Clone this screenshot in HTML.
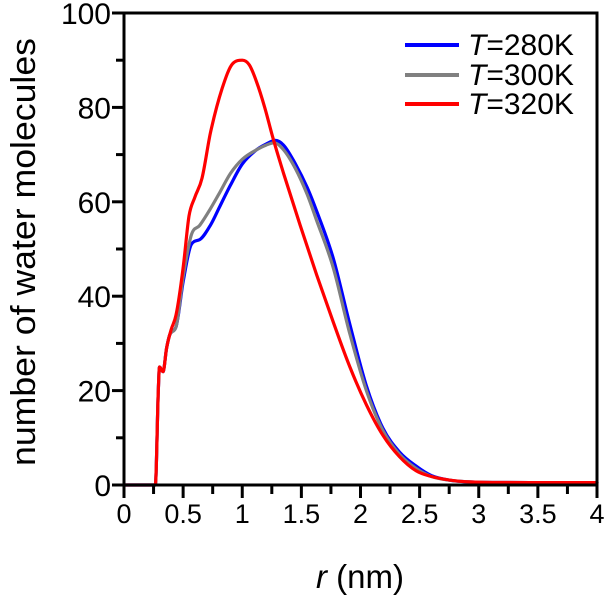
<!DOCTYPE html>
<html><head><meta charset="utf-8"><style>
html,body{margin:0;padding:0;background:#fff;}
svg text{font-family:"Liberation Sans",sans-serif;fill:#000;}
</style></head><body>
<svg id="chart" width="605" height="596" viewBox="0 0 605 596" xmlns="http://www.w3.org/2000/svg">
<g id="series"></g>
<g id="axes"></g>
<text transform="translate(35,252) rotate(-90)" text-anchor="middle" font-size="34" textLength="428" lengthAdjust="spacingAndGlyphs">number of water molecules</text>
<text x="360" y="588" text-anchor="middle" font-size="33"><tspan font-style="italic">r</tspan> (nm)</text>
<g>
<line x1="405" y1="45" x2="459" y2="45" stroke="#0000ff" stroke-width="4"/>
<text x="468" y="55" font-size="30"><tspan font-style="italic">T</tspan>=280K</text>
<line x1="405" y1="75" x2="459" y2="75" stroke="#808080" stroke-width="4"/>
<text x="468" y="85" font-size="30"><tspan font-style="italic">T</tspan>=300K</text>
<line x1="405" y1="104" x2="459" y2="104" stroke="#ff0000" stroke-width="4"/>
<text x="468" y="114" font-size="30"><tspan font-style="italic">T</tspan>=320K</text>
</g>
</svg>
<script>
const xTicks = [0,0.5,1,1.5,2,2.5,3,3.5,4];
const xTickLabels = ["0","0.5","1","1.5","2","2.5","3","3.5","4"];
const yTicks = [0,20,40,60,80,100];
const yTickLabels = ["0","20","40","60","80","100"];
const rBlue = [0,0.265,0.29,0.30,0.33,0.36,0.39,0.44,0.50,0.57,0.64,0.73,0.81,0.90,1.0,1.12,1.2,1.28,1.35,1.45,1.55,1.63,1.77,1.91,2.05,2.19,2.33,2.47,2.6,2.76,3.0,3.5,4.0];
const nBlue = [0,0,20,25,24,29,32,33.5,43,51,52,55,59,63.5,68,71,72.2,73,72,68,63,58,48,34,21,12,7,4,2,1,0.6,0.5,0.5];
const rGray = [0,0.265,0.29,0.30,0.33,0.36,0.39,0.44,0.50,0.57,0.64,0.73,0.81,0.90,1.0,1.12,1.2,1.27,1.35,1.45,1.55,1.63,1.77,1.91,2.05,2.19,2.33,2.47,2.6,2.76,3.0,3.5,4.0];
const nGray = [0,0,20,25,24,29,32,33.5,44,53,55,58.5,62,66,69,71,72,72.5,71,67,61.5,56,46,32,20,11.5,6.5,3.5,1.8,1,0.6,0.5,0.5];
const rRed = [0,0.265,0.29,0.30,0.33,0.36,0.40,0.44,0.50,0.55,0.60,0.66,0.73,0.83,0.92,1.0,1.06,1.12,1.19,1.26,1.35,1.49,1.63,1.77,1.91,2.05,2.19,2.33,2.47,2.6,2.8,3.0,3.5,4.0];
const nRed = [0,0,20,25,24,29,33,36,46,57,61,65,74.5,84,89.3,90,89,85.5,80,73.5,66,55,44.5,34.5,25,17,10.5,6,3,1.8,0.9,0.6,0.5,0.5];

const X0=124, X1=597, Y0=485, Y1=13;
const xScale = v => X0 + (v/4)*(X1-X0);
const yScale = v => Y0 - (v/100)*(Y0-Y1);
const NS="http://www.w3.org/2000/svg";
const axes=document.getElementById('axes');
const series=document.getElementById('series');
function mk(tag, attrs, parent){const e=document.createElementNS(NS,tag);for(const k in attrs)e.setAttribute(k,attrs[k]);parent.appendChild(e);return e;}

// monotone cubic (Fritsch-Carlson) in pixel space
function monoPath(P){
  const n=P.length, d=[], m=[];
  for(let i=0;i<n-1;i++) d.push((P[i+1][1]-P[i][1])/(P[i+1][0]-P[i][0]));
  m[0]=d[0]; m[n-1]=d[n-2];
  for(let i=1;i<n-1;i++){ m[i]=(d[i-1]*d[i]<=0)?0:(d[i-1]+d[i])/2; }
  for(let i=0;i<n-1;i++){
    if(d[i]===0){m[i]=0;m[i+1]=0;continue;}
    const a=m[i]/d[i], b=m[i+1]/d[i], s=a*a+b*b;
    if(s>9){const t=3/Math.sqrt(s); m[i]=t*a*d[i]; m[i+1]=t*b*d[i];}
  }
  let s='M'+P[0][0].toFixed(1)+','+P[0][1].toFixed(1);
  for(let i=0;i<n-1;i++){
    const h=(P[i+1][0]-P[i][0])/3;
    s+=' C'+(P[i][0]+h).toFixed(1)+','+(P[i][1]+m[i]*h).toFixed(1)+' '+(P[i+1][0]-h).toFixed(1)+','+(P[i+1][1]-m[i+1]*h).toFixed(1)+' '+P[i+1][0].toFixed(1)+','+P[i+1][1].toFixed(1);
  }
  return s;
}
function drawSeries(rs, ns, color, name){
  const P = rs.map((r,i)=>[xScale(r),yScale(ns[i])]);
  const p = mk('path',{d:monoPath(P),fill:'none',stroke:color,'stroke-width':3.2,'stroke-linejoin':'round','stroke-linecap':'round'},series);
  
  
}
drawSeries(rBlue,nBlue,'#0000ff','series-280k');
drawSeries(rGray,nGray,'#808080','series-300k');
drawSeries(rRed,nRed,'#ff0000','series-320k');

const frame = mk('rect',{x:X0,y:Y1,width:X1-X0,height:Y0-Y1,fill:'none',stroke:'#000','stroke-width':3},axes);



for(let k=0;k<=16;k++){
  const v=k*0.25, x=xScale(v), major=(k%2===0);
  const t = mk('line',{x1:x,y1:Y0,x2:x,y2:Y0+(major?13:9),stroke:'#000','stroke-width':3},axes);
  
  
}
xTicks.forEach((v,i)=>{
  const t = mk('text',{x:xScale(v),y:523,'text-anchor':'middle','font-size':27},axes);
  t.textContent = xTickLabels[i];
  
  
});
for(let k=0;k<=10;k++){
  const v=k*10, y=yScale(v), major=(k%2===0);
  const t = mk('line',{x1:X0,y1:y,x2:X0-(major?12:8),y2:y,stroke:'#000','stroke-width':3},axes);
  
  
}
yTicks.forEach((v,i)=>{
  const t = mk('text',{x:111,y:yScale(v)+11,'text-anchor':'end','font-size':30},axes);
  t.textContent = yTickLabels[i];
  
  
});
</script>
</body></html>
